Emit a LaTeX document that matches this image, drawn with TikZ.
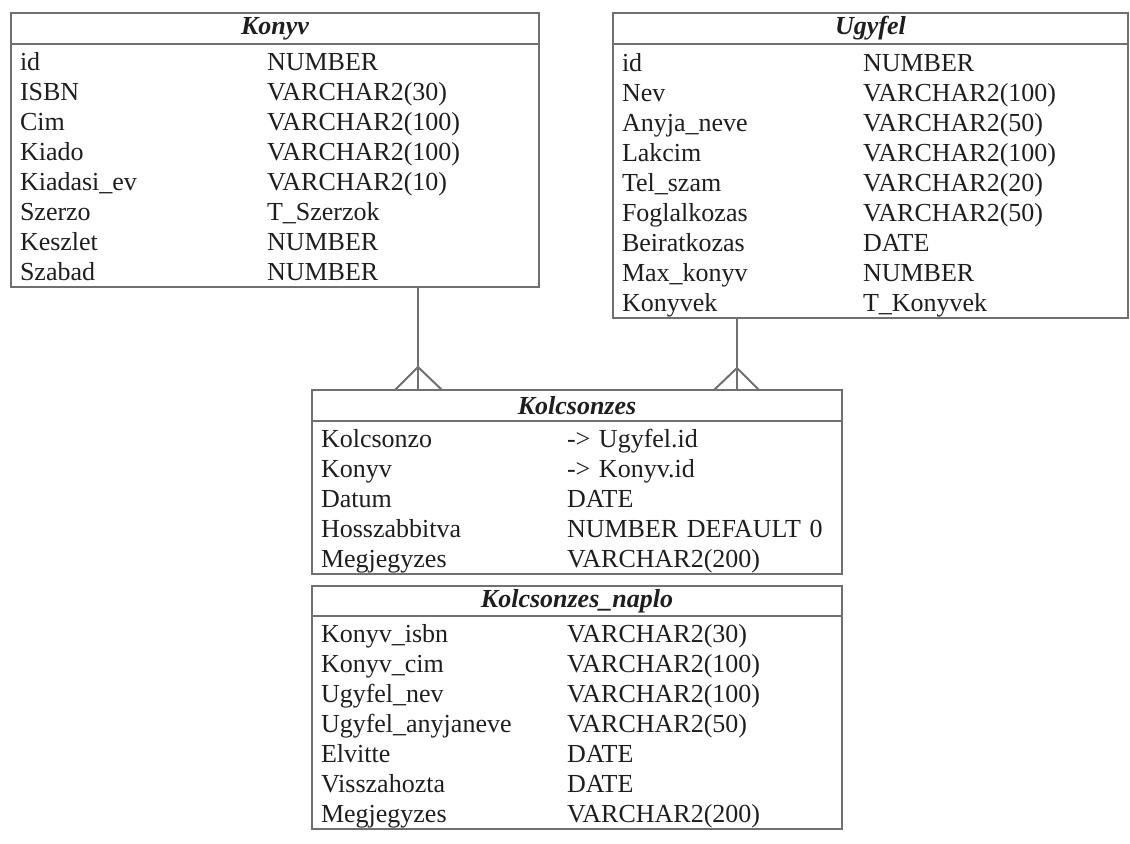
\documentclass[tikz,border=0pt]{standalone}
\usepackage{fontspec}
\setmainfont{Liberation Serif}
\usetikzlibrary{positioning}
\definecolor{linegray}{RGB}{112,112,112}
\definecolor{inkgray}{RGB}{30,30,30}
\newcommand{\tabfont}{\fontsize{13pt}{15pt}\selectfont}
\newcommand{\rowsdown}[1]{\raisebox{-2pt}[\height][\depth]{#1}}

\begin{document}
\begin{tikzpicture}[x=0.5pt, y=-0.5pt,
  tabhead/.style={draw=linegray, line width=1pt, anchor=north west, inner sep=0pt, outer sep=0pt,
    minimum height=15.5pt, text=inkgray, font=\tabfont\bfseries\itshape},
  tabbody/.style={draw=linegray, line width=1pt, inner xsep=4.5pt, inner ysep=0.75pt, outer sep=0pt,
    align=left, text=inkgray, font=\tabfont},
  rel/.style={draw=linegray, line width=1pt}]
\useasboundingbox (0,0) rectangle (1130,843);

% Konyv
\node [tabhead, minimum width=264pt] (konyvh) at (11,13) {Konyv};
\node [tabbody, below=0pt of konyvh, text width=255pt, minimum height=121.5pt] (konyvb) {\rowsdown{%
  \begin{tabular}{@{}p{123.5pt}@{}l@{}}
  id & NUMBER\\
  ISBN & VARCHAR2(30)\\
  Cim & VARCHAR2(100)\\
  Kiado & VARCHAR2(100)\\
  Kiadasi\_ev & VARCHAR2(10)\\
  Szerzo & T\_Szerzok\\
  Keszlet & NUMBER\\
  Szabad & NUMBER
  \end{tabular}}};

% Ugyfel
\node [tabhead, minimum width=257.5pt] (ugyfelh) at (613,13) {Ugyfel};
\node [tabbody, below=0pt of ugyfelh, text width=248.5pt, minimum height=137pt] (ugyfelb) {\rowsdown{%
  \begin{tabular}{@{}p{120.5pt}@{}l@{}}
  id & NUMBER\\
  Nev & VARCHAR2(100)\\
  Anyja\_neve & VARCHAR2(50)\\
  Lakcim & VARCHAR2(100)\\
  Tel\_szam & VARCHAR2(20)\\
  Foglalkozas & VARCHAR2(50)\\
  Beiratkozas & DATE\\
  Max\_konyv & NUMBER\\
  Konyvek & T\_Konyvek
  \end{tabular}}};

% Kolcsonzes
\node [tabhead, minimum width=265pt] (kolcsh) at (312,390) {Kolcsonzes};
\node [tabbody, below=0pt of kolcsh, text width=256pt, minimum height=76pt] (kolcsb) {\rowsdown{%
  \begin{tabular}{@{}p{123pt}@{}l@{}}
  Kolcsonzo & -> Ugyfel.id\\
  Konyv & -> Konyv.id\\
  Datum & DATE\\
  Hosszabbitva & NUMBER DEFAULT 0\\
  Megjegyzes & VARCHAR2(200)
  \end{tabular}}};

% Kolcsonzes_naplo
\node [tabhead, below=6pt of kolcsb, minimum width=265pt, minimum height=15pt] (naploh) {Kolcsonzes\_naplo};
\node [tabbody, below=0pt of naploh, text width=256pt, minimum height=106pt] (naplob) {\rowsdown{%
  \begin{tabular}{@{}p{123pt}@{}l@{}}
  Konyv\_isbn & VARCHAR2(30)\\
  Konyv\_cim & VARCHAR2(100)\\
  Ugyfel\_nev & VARCHAR2(100)\\
  Ugyfel\_anyjaneve & VARCHAR2(50)\\
  Elvitte & DATE\\
  Visszahozta & DATE\\
  Megjegyzes & VARCHAR2(200)
  \end{tabular}}};

% one-to-many links
\coordinate (fk1) at ([xshift=53pt]kolcsh.north west);
\coordinate (fk2) at ([xshift=212.5pt]kolcsh.north west);
\draw [rel] (konyvb.south -| fk1) -- (fk1);
\draw [rel] (fk1) ++(-23,0) -- ++(23,-23) -- ++(24,23);
\draw [rel] (ugyfelb.south -| fk2) -- (fk2);
\draw [rel] (fk2) ++(-23,0) -- ++(23,-22) -- ++(22,22);
\end{tikzpicture}
\end{document}
